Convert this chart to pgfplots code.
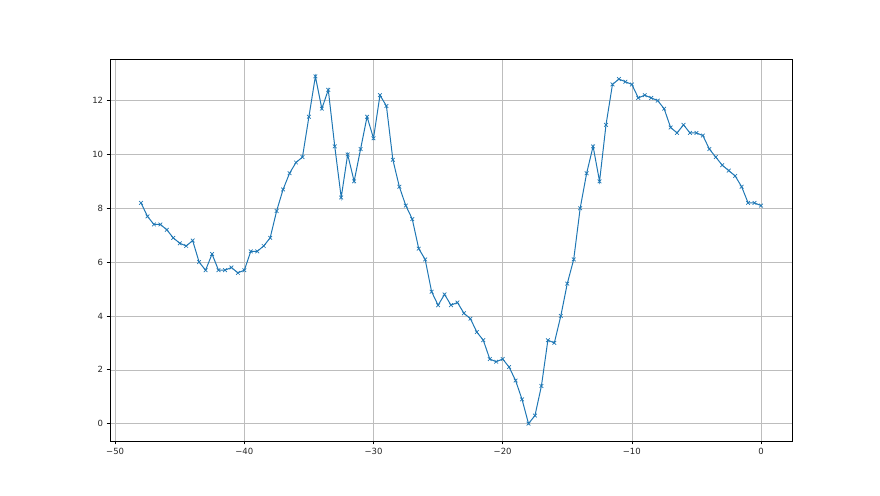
\documentclass[border=0pt]{standalone}
\usepackage{pgfplots}
\pgfplotsset{compat=1.18}
\usepackage{fontspec}
\setmainfont{DejaVu Sans}
\definecolor{mplblue}{HTML}{1F77B4}
\definecolor{gridgray}{HTML}{BDBDBD}
\pgfplotstableread{
x y
-48 8.2
-47.5 7.7
-47 7.4
-46.5 7.4
-46 7.2
-45.5 6.9
-45 6.7
-44.5 6.6
-44 6.8
-43.5 6.0
-43 5.7
-42.5 6.3
-42 5.7
-41.5 5.7
-41 5.8
-40.5 5.6
-40 5.7
-39.5 6.4
-39 6.4
-38.5 6.6
-38 6.9
-37.5 7.9
-37 8.7
-36.5 9.3
-36 9.7
-35.5 9.9
-35 11.4
-34.5 12.9
-34 11.7
-33.5 12.4
-33 10.3
-32.5 8.4
-32 10.0
-31.5 9.0
-31 10.2
-30.5 11.4
-30 10.6
-29.5 12.2
-29 11.8
-28.5 9.8
-28 8.8
-27.5 8.1
-27 7.6
-26.5 6.5
-26 6.1
-25.5 4.9
-25 4.4
-24.5 4.8
-24 4.4
-23.5 4.5
-23 4.1
-22.5 3.9
-22 3.4
-21.5 3.1
-21 2.4
-20.5 2.3
-20 2.4
-19.5 2.1
-19 1.6
-18.5 0.9
-18 0.0
-17.5 0.3
-17 1.4
-16.5 3.1
-16 3.0
-15.5 4.0
-15 5.2
-14.5 6.1
-14 8.0
-13.5 9.3
-13 10.3
-12.5 9.0
-12 11.1
-11.5 12.6
-11 12.8
-10.5 12.7
-10 12.6
-9.5 12.1
-9 12.2
-8.5 12.1
-8 12.0
-7.5 11.7
-7 11.0
-6.5 10.8
-6 11.1
-5.5 10.8
-5 10.8
-4.5 10.7
-4 10.2
-3.5 9.9
-3 9.6
-2.5 9.4
-2 9.2
-1.5 8.8
-1 8.2
-0.5 8.2
0 8.1
}\datatable
\begin{document}
\begin{tikzpicture}
\path (0,0) rectangle (880pt,495pt);
\begin{axis}[
  at={(110pt,54pt)}, anchor=south west,
  scale only axis, width=682pt, height=382pt,
  xmin=-50.4, xmax=2.4, ymin=-0.645, ymax=13.545,
  xtick={-50,-40,-30,-20,-10,0},
  xticklabels={−50,−40,−30,−20,−10,0},
  ytick={0,2,4,6,8,10,12},
  yticklabels={0,2,4,6,8,10,12},
  grid=major,
  major grid style={gridgray, line width=0.55pt},
  axis line style={black, line width=0.6pt},
  tick style={black, line width=0.6pt},
  tick align=outside, major tick length=3.4pt,
  xtick pos=bottom, ytick pos=left,
  tick label style={font=\fontsize{8.5}{10}\selectfont, text=black!85},
]
\addplot[mplblue, line width=1pt, mark=x, mark size=2.6pt, mark options={line width=0.7pt}] table[x=x,y=y] {\datatable};
\end{axis}
\end{tikzpicture}
\end{document}
